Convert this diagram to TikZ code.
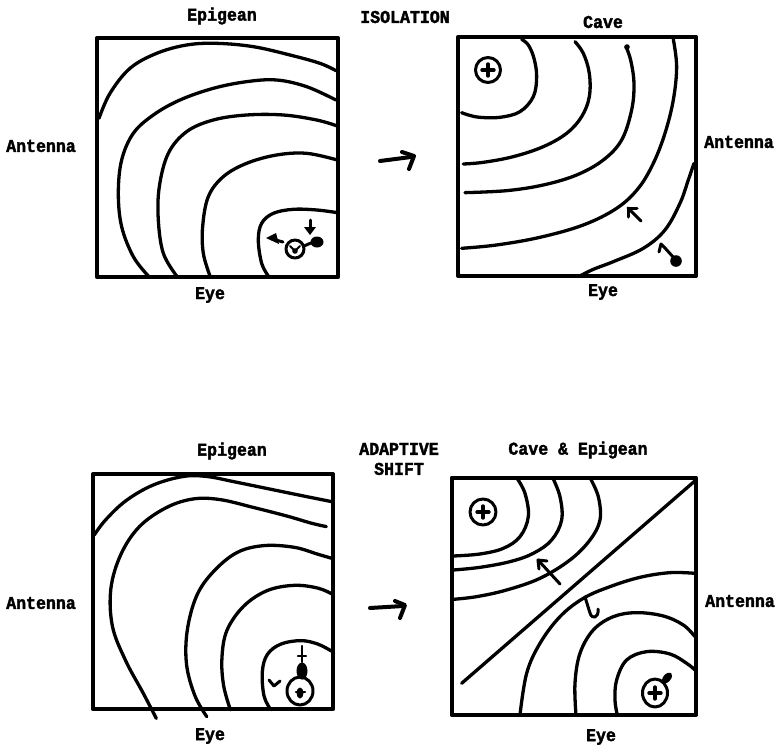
\documentclass[tikz,border=0pt]{standalone}
\usepackage{fontspec}
\newfontfamily\labfont{Liberation Mono}[FakeStretch=0.92, BoldFeatures={FakeBold=2}]
\begin{document}
\begin{tikzpicture}[x=1pt,y=-1pt,
  lab/.style={font=\labfont\bfseries\fontsize{18}{20}\selectfont, inner sep=0pt, align=center},
  frame/.style={line width=4.2pt, line join=round, line cap=round},
  contour/.style={line width=3.3pt, line cap=round, line join=round},
  sym/.style={line width=3pt, line cap=round, line join=round}
]
\useasboundingbox (0,0) rectangle (777,748);
\fill[white] (0,0) rectangle (777,748);

% ---------- labels ----------
\node[lab] (t1) at (222,16) {Epigean};
\node[lab] (t2) at (405,17) {ISOLATION};
\node[lab] (t3) at (603,22) {Cave};
\node[lab] (a1) at (41,146) {Antenna};
\node[lab] (a2) at (739,142) {Antenna};
\node[lab] (e1) at (210,295) {Eye};
\node[lab] (e2) at (603,292) {Eye};
\node[lab] (t4) at (232,451) {Epigean};
\node[lab] (t5) at (399,459) {ADAPTIVE\\SHIFT};
\node[lab] (t6) at (578,450) {Cave \& Epigean};
\node[lab] (a3) at (41,603) {Antenna};
\node[lab] (a4) at (740,601) {Antenna};
\node[lab] (e3) at (210,736) {Eye};
\node[lab] (e4) at (601,737) {Eye};

% ---------- arrows between panels ----------
\draw[line width=4pt, line cap=round, line join=round] (380,161) -- (411,157);
\draw[line width=4pt, line cap=round, line join=round] (402,152) -- (414,156) -- (409,169);
\draw[line width=4pt, line cap=round, line join=round] (370,608) -- (403,606);
\draw[line width=4pt, line cap=round, line join=round] (395,601) -- (405,605) -- (400,618);

% ---------- panel TL ----------
\begin{scope}[x={(0.3333pt,0pt)}, y={(0pt,-0.3333pt)}]
  \draw[frame] (290,115) rectangle (1015,830);
  \draw[contour] plot[smooth, tension=0.6] coordinates {(297,355) (330,280) (390,205) (470,160) (560,135) (650,130) (760,140) (870,165) (960,190) (1008,212)};
  \draw[contour] plot[smooth, tension=0.6] coordinates {(445,828) (400,770) (365,680) (355,580) (365,480) (400,400) (460,345) (540,300) (640,265) (740,245) (830,240) (920,260) (1008,300)};
  \draw[contour] plot[smooth, tension=0.6] coordinates {(530,828) (490,760) (475,660) (478,560) (505,460) (560,395) (640,360) (740,345) (850,345) (950,360) (1012,378)};
  \draw[contour] plot[smooth, tension=0.6] coordinates {(630,828) (610,760) (608,680) (625,590) (670,530) (740,490) (830,465) (920,460) (1012,480)};
  \draw[contour] plot[smooth, tension=0.6] coordinates {(805,828) (785,790) (775,720) (785,670) (820,640) (880,628) (950,630) (1012,638)};
\end{scope}
% symbols TL
\draw[sym] (295,249) circle (9);
\fill (295,251) circle (2.8);
\draw[sym, line width=2pt] (290,246) -- (295,251) -- (300,246);
\fill (317,242) ellipse (6.5 and 5.5);
\draw[sym] (304,246) -- (311,243);
\draw[sym] (283,242) -- (272,239);
\fill (266,238) -- (276,233) -- (279,244) -- cycle;
\draw[sym] (310,220) -- (310,230);
\fill (304,227) -- (316,227) -- (310,235) -- cycle;

% ---------- panel TR ----------
\begin{scope}[shift={(380pt,0pt)}, x={(0.3333pt,0pt)}, y={(0pt,-0.3333pt)}]
  \draw[frame] (235,110) rectangle (948,828);
  \draw[contour] plot[smooth, tension=0.6] coordinates {(425,118) (445,135) (462,175) (470,230) (460,290) (420,335) (360,352) (300,352) (265,345) (245,338)};
  \draw[contour] plot[smooth, tension=0.6] coordinates {(585,125) (610,160) (628,220) (628,290) (605,350) (560,400) (490,440) (400,470) (310,487) (250,492)};
  \draw[contour] plot[smooth, tension=0.6] coordinates {(738,140) (752,180) (762,250) (755,330) (725,420) (670,480) (590,525) (490,555) (380,572) (255,578)};
  \draw[contour] plot[smooth, tension=0.6] coordinates {(880,118) (890,200) (880,300) (855,400) (820,490) (775,565) (710,625) (610,675) (480,712) (350,735) (245,745)};
  \draw[contour] plot[smooth, tension=0.6] coordinates {(942,490) (925,540) (900,610) (855,690) (790,745) (700,785) (640,808) (600,828)};
\end{scope}
% symbols TR
\fill (627,47) circle (2.8);
\draw[sym] (488,70) circle (12.5);
\draw[sym, line width=3.4pt] (488,64) -- (488,76);
\draw[sym, line width=3.4pt] (482,70) -- (494,70);
\draw[sym] (641,221) -- (628,208);
\draw[sym] (637,208) -- (628,208) -- (628,217);
\fill (676,261) circle (5.8);
\draw[sym] (674,258) -- (665,248) -- (661,244) -- (659,252);

% ---------- panel BL ----------
\begin{scope}[shift={(-1.9pt,-422.9pt)}, x={(0.3366pt,0pt)}, y={(0pt,-0.3456pt)}]
  \draw[frame] (282,148) rectangle (995,828);
  \draw[contour] plot[smooth, tension=0.6] coordinates {(285,325) (320,280) (380,225) (460,180) (550,155) (620,155) (700,170) (800,190) (900,210) (992,228)};
  \draw[contour] plot[smooth, tension=0.6] coordinates {(470,855) (430,780) (380,690) (340,590) (335,480) (365,380) (420,300) (500,245) (580,220) (660,222) (760,245) (860,270) (930,290) (975,300)};
  \draw[contour] plot[smooth, tension=0.6] coordinates {(620,850) (585,790) (560,700) (562,600) (590,500) (640,430) (710,375) (790,355) (880,360) (950,380) (992,392)};
  \draw[contour] plot[smooth, tension=0.6] coordinates {(690,830) (670,760) (665,680) (680,600) (730,530) (800,485) (880,470) (950,478) (992,495)};
  \draw[contour] plot[smooth, tension=0.6] coordinates {(810,830) (790,790) (785,720) (800,670) (840,640) (900,630) (950,640) (990,660)};
\end{scope}
% symbols BL
\draw[sym] (300,691) ellipse (13 and 14);
\fill (300,693) ellipse (3.5 and 5.5);
\draw[sym, line width=2.4pt] (296,692) -- (305,692);
\draw[sym, line width=2.4pt] (302,646) -- (302,662);
\draw[sym, line width=2.4pt] (298,656) -- (306,656);
\fill (302,671) ellipse (5.5 and 8.5);
\draw[sym] (269,680) -- (274,686) -- (280,681);

% ---------- panel BR ----------
\begin{scope}[shift={(380pt,-430pt)}, x={(0.3333pt,0pt)}, y={(0pt,-0.3333pt)}]
  \draw[frame] (215,143) rectangle (948,855);
  \draw[contour] (245,760) -- (948,150);
  \draw[contour] plot[smooth, tension=0.6] coordinates {(410,143) (435,190) (445,260) (420,320) (370,355) (300,372) (220,378)};
  \draw[contour] plot[smooth, tension=0.6] coordinates {(518,143) (540,200) (545,270) (515,330) (460,370) (390,395) (300,412) (220,420)};
  \draw[contour] plot[smooth, tension=0.6] coordinates {(630,143) (655,200) (660,270) (630,330) (570,390) (480,445) (380,480) (290,500) (220,508)};
  \draw[contour] plot[smooth, tension=0.6] coordinates {(945,430) (870,428) (780,442) (690,470) (610,505) (540,560) (480,640) (440,730) (420,855)};
  \draw[contour] plot[smooth, tension=0.6] coordinates {(945,620) (910,585) (850,558) (770,548) (700,560) (640,600) (600,670) (585,760) (588,855)};
  \draw[contour] plot[smooth, tension=0.6] coordinates {(945,720) (920,700) (870,672) (800,665) (740,690) (710,750) (705,810) (712,855)};
\end{scope}
% symbols BR
\draw[sym] (483,512) circle (13);
\draw[sym, line width=3.4pt] (483,506) -- (483,518);
\draw[sym, line width=3.4pt] (477,512) -- (489,512);
\draw[sym] (655,693) ellipse (12.5 and 14);
\draw[sym, line width=3.4pt] (655,687) -- (655,699);
\draw[sym, line width=3.4pt] (649,693) -- (661,693);
\fill[rotate around={-40:(667,678)}] (667,678) ellipse (3.8 and 6.5);
\draw[sym] (560,584) -- (538,560);
\draw[sym] (547,561) -- (538,560) -- (539,569);
\draw[sym] (585,597) -- (590,613) .. controls (592,620) and (599,618) .. (598,609);
\end{tikzpicture}
\end{document}
